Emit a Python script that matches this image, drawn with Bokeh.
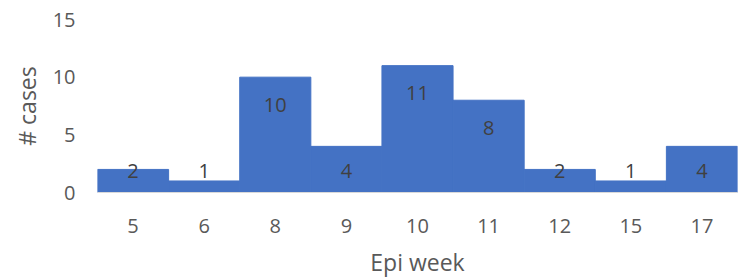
from bokeh.plotting import figure
from bokeh.models import ColumnDataSource, FixedTicker
from bokeh.core.properties import value
from bokeh.embed import file_html
from bokeh.resources import INLINE

weeks = ["5", "6", "8", "9", "10", "11", "12", "15", "17"]
cases = [2, 1, 10, 4, 11, 8, 2, 1, 4]
y_ticks = [0, 5, 10, 15]

FONT = "Open Sans"
label_y = [max(c - 2.4, 1.9) for c in cases]
src = ColumnDataSource(dict(week=weeks, cases=cases, ly=label_y,
                            txt=[str(c) for c in cases]))

p = figure(x_range=weeks, y_range=(0, 15), width=738, height=280,
           output_backend="svg", toolbar_location=None,
           min_border_left=97, min_border_right=1, min_border_top=19,
           min_border_bottom=87)
p.outline_line_color = None
p.background_fill_color = "white"
p.border_fill_color = "white"
p.xgrid.grid_line_color = None
p.ygrid.grid_line_color = None
p.x_range.range_padding = 0

p.vbar(x="week", top="cases", width=1.0, source=src,
       fill_color="#4472C4", line_color="#4472C4", line_width=1)

p.text(x="week", y="ly", text="txt", source=src,
       text_align="center", text_baseline="middle",
       text_font=value(FONT), text_font_size="20px", text_color="#404040")

p.yaxis.ticker = FixedTicker(ticks=y_ticks)
for ax in (p.xaxis, p.yaxis):
    ax.major_tick_line_color = None
    ax.minor_tick_line_color = None
    ax.major_label_text_font = FONT
    ax.major_label_text_font_size = "20px"
    ax.major_label_text_color = "#595959"
    ax.axis_label_text_font = FONT
    ax.axis_label_text_font_size = "23px"
    ax.axis_label_text_font_style = "normal"
    ax.axis_label_text_color = "#595959"

p.yaxis.axis_line_color = None
p.yaxis.major_label_standoff = 16
p.yaxis.axis_label = "# cases"
p.yaxis.axis_label_standoff = 7

p.xaxis.axis_line_color = "#D9D9D9"
p.xaxis.major_label_standoff = 20
p.xaxis.axis_label = "Epi week"
p.xaxis.axis_label_standoff = 10

open("out.html", "w").write(file_html(p, INLINE))
